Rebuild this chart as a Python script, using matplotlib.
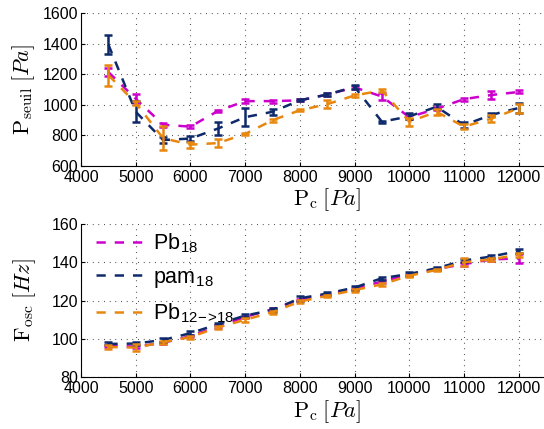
import numpy as np
import matplotlib
matplotlib.use("Agg")
import matplotlib.pyplot as plt

plt.rcParams["font.family"] = ["Liberation Sans", "DejaVu Sans"]
plt.rcParams["mathtext.fontset"] = "cm"

# ── data ────────────────────────────────────────────────────────────────────
pc = [4500, 5000, 5500, 6000, 6500, 7000, 7500, 8000,
      8500, 9000, 9500, 10000, 10500, 11000, 11500, 12000]

# threshold pressure [Pa]
seuil_pb18 = [1215, 1040, 870, 858, 960, 1025, 1025, 1030,
              1068, 1115, 1055, 920, 975, 1038, 1065, 1085]
seuil_pb18_err = [28, 30, 12, 12, 8, 15, 10, 6,
                  8, 10, 25, 12, 10, 10, 25, 10]
seuil_pam18 = [1395, 955, 770, 780, 845, 920, 955, 1030,
               1068, 1118, 890, 925, 988, 868, 935, 980]
seuil_pam18_err = [62, 70, 20, 15, 40, 60, 20, 6,
                   12, 12, 8, 20, 15, 20, 10, 35]
seuil_pb1218 = [1195, 1012, 782, 740, 750, 810, 900, 965,
                1005, 1062, 1095, 890, 955, 858, 910, 978]
seuil_pb1218_err = [68, 15, 80, 20, 25, 8, 10, 6,
                    25, 8, 10, 25, 20, 15, 25, 30]

# oscillation frequency [Hz]
fosc_pb18 = [96.5, 96.0, 98.0, 101.5, 106.5, 111.5, 115.5, 120.5,
             123.0, 126.0, 130.0, 133.5, 136.5, 139.0, 141.5, 142.0]
fosc_pb18_err = [0.6, 0.8, 0.6, 0.6, 0.6, 0.6, 0.6, 0.6,
                 0.6, 0.6, 0.6, 0.6, 0.6, 0.8, 0.8, 2.5]
fosc_pam18 = [97.4, 97.6, 99.5, 103.0, 107.7, 112.2, 115.1, 121.2,
              123.7, 126.8, 131.7, 133.9, 136.9, 140.9, 143.0, 145.9]
fosc_pam18_err = [0.8, 1.0, 1.2, 1.0, 0.6, 1.0, 0.8, 1.2,
                  0.8, 1.0, 0.8, 0.8, 0.8, 1.0, 0.8, 0.8]
fosc_pb1218 = [95.8, 95.5, 98.3, 101.0, 106.0, 110.0, 114.0, 119.5,
               122.5, 125.5, 128.5, 133.0, 136.0, 140.0, 141.5, 144.0]
fosc_pb1218_err = [0.8, 2.0, 0.8, 0.8, 0.6, 1.0, 0.8, 0.8,
                   0.6, 0.8, 0.8, 0.6, 0.6, 2.0, 0.8, 1.0]

labels = [r"Pb$_\mathregular{18}$", r"pam$_\mathregular{18}$",
          r"Pb$_\mathregular{12\!-\!\!>\!18}$"]
colors = ["#cc00cc", "#0f2a6b", "#e8870e"]

dash = (0, (3.7, 3.6))


def draw(ax, series):
    for (y, e), color, label in zip(series, colors, labels):
        ax.errorbar(pc, y, yerr=e, color=color, lw=1.8, ls="none",
                    elinewidth=1.8, capsize=3.2, capthick=1.8, zorder=3)
        ax.plot(pc, y, color=color, lw=1.8, ls=dash, label=label, zorder=3)
    ax.grid(True, color="k", ls=(0, (0.6, 4.5)), lw=0.8)
    ax.set_xlim(4000, 13000)
    ax.set_xticks(range(4000, 13000, 1000))
    ax.spines["top"].set_visible(False)
    ax.spines["right"].set_visible(False)
    ax.tick_params(direction="in", length=3, labelsize=11.5)
    ax.tick_params(axis="x", pad=3)
    ax.tick_params(axis="y", pad=2)
    ax.set_xlabel(r"$\mathrm{P_c}\;[Pa]$", fontsize=16, labelpad=1)


fig = plt.figure(figsize=(5.44, 4.29), dpi=100)
ax1 = fig.add_axes([0.149, 0.613, 0.905, 0.356])
ax2 = fig.add_axes([0.149, 0.1205, 0.905, 0.3575])

draw(ax1, [(seuil_pb18, seuil_pb18_err), (seuil_pam18, seuil_pam18_err),
           (seuil_pb1218, seuil_pb1218_err)])
ax1.set_ylim(600, 1600)
ax1.set_yticks(range(600, 1601, 200))
ax1.set_ylabel(r"$\mathrm{P_{seuil}}\;[Pa]$", fontsize=16, labelpad=4)

draw(ax2, [(fosc_pb18, fosc_pb18_err), (fosc_pam18, fosc_pam18_err),
           (fosc_pb1218, fosc_pb1218_err)])
ax2.set_ylim(80, 160)
ax2.set_yticks(range(80, 161, 20))
ax2.set_ylabel(r"$\mathrm{F_{osc}}\;[Hz]$", fontsize=16, labelpad=10)

ax2.legend(loc="upper left", bbox_to_anchor=(0.0, 1.05), frameon=False,
           fontsize=15.5, handlelength=2.2, handletextpad=0.45,
           labelspacing=0.55, borderaxespad=0.3)

fig.savefig("out.png", dpi=100)
